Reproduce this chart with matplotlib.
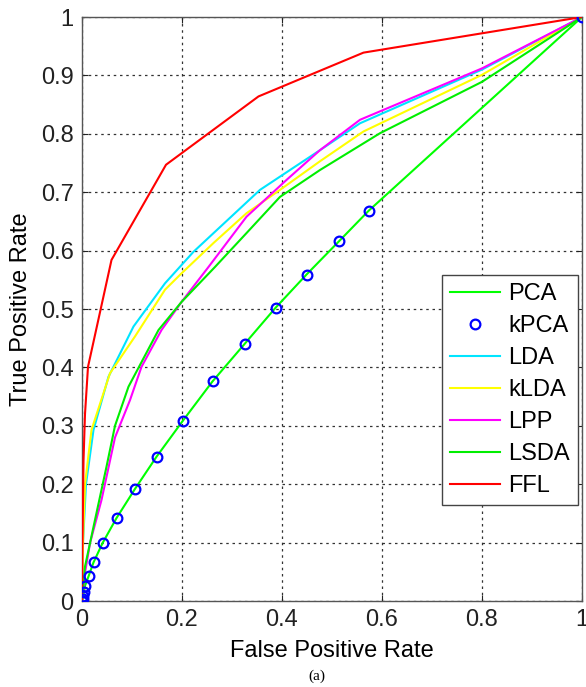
"""ROC curves of the compared feature extractors (panel a)."""

import matplotlib
matplotlib.use("Agg")
import matplotlib.pyplot as plt

plt.rcParams["font.family"] = ["Liberation Sans", "DejaVu Sans"]

# ROC points (false positive rate, true positive rate)
pca_fpr = [0.0, 0.001, 0.002, 0.004, 0.006, 0.013, 0.023, 0.041, 0.069, 0.106,
           0.149, 0.202, 0.261, 0.325, 0.387, 0.449, 0.514, 0.573, 1.0]
pca_tpr = [0.0, 0.003, 0.008, 0.016, 0.026, 0.042, 0.066, 0.099, 0.142, 0.192,
           0.247, 0.309, 0.376, 0.440, 0.502, 0.559, 0.616, 0.668, 1.0]

kpca_fpr = pca_fpr
kpca_tpr = pca_tpr

lda_fpr = [0.0, 0.002, 0.008, 0.023, 0.053, 0.103, 0.166, 0.223, 0.356, 0.476,
           0.556, 0.8, 1.0]
lda_tpr = [0.0, 0.10, 0.20, 0.293, 0.384, 0.470, 0.544, 0.598, 0.704, 0.772,
           0.818, 0.91, 1.0]

klda_fpr = [0.0, 0.002, 0.006, 0.019, 0.056, 0.106, 0.166, 0.199, 0.263, 0.329,
            0.396, 0.476, 0.563, 0.8, 1.0]
klda_tpr = [0.0, 0.10, 0.20, 0.293, 0.390, 0.453, 0.533, 0.561, 0.613, 0.664,
            0.704, 0.753, 0.804, 0.901, 1.0]

lpp_fpr = [0.0, 0.006, 0.016, 0.039, 0.066, 0.096, 0.119, 0.159, 0.199, 0.253,
           0.329, 0.409, 0.476, 0.556, 0.8, 1.0]
lpp_tpr = [0.0, 0.048, 0.099, 0.173, 0.28, 0.344, 0.401, 0.464, 0.512, 0.572,
           0.658, 0.721, 0.772, 0.824, 0.912, 1.0]

lsda_fpr = [0.0, 0.006, 0.023, 0.049, 0.066, 0.093, 0.153, 0.199, 0.266, 0.329,
            0.396, 0.476, 0.596, 0.8, 1.0]
lsda_tpr = [0.0, 0.059, 0.127, 0.23, 0.30, 0.367, 0.464, 0.512, 0.572, 0.630,
            0.692, 0.738, 0.801, 0.889, 1.0]

ffl_fpr = [0.0, 0.001, 0.003, 0.006, 0.012, 0.059, 0.168, 0.353, 0.563, 1.0]
ffl_tpr = [0.0, 0.10, 0.24, 0.32, 0.401, 0.584, 0.747, 0.864, 0.939, 1.0]

x_ticks = [0.0, 0.2, 0.4, 0.6, 0.8, 1.0]
x_tick_labels = ["0", "0.2", "0.4", "0.6", "0.8", "1"]
y_ticks = [0.0, 0.1, 0.2, 0.3, 0.4, 0.5, 0.6, 0.7, 0.8, 0.9, 1.0]
y_tick_labels = ["0", "0.1", "0.2", "0.3", "0.4", "0.5", "0.6", "0.7", "0.8", "0.9", "1"]

fig = plt.figure(figsize=(5.86, 6.87), dpi=100)
ax = fig.add_axes([82 / 586, 1 - 601 / 687, 500 / 586, 584 / 687])

lw = 1.5
ax.plot(pca_fpr, pca_tpr, color="#00ff00", lw=lw, label="PCA", zorder=3)
ax.plot(kpca_fpr, kpca_tpr, ls="none", marker="o", ms=7, mfc="none",
        mec="#0000ff", mew=1.6, label="kPCA", zorder=4)
ax.plot(lda_fpr, lda_tpr, color="#00e5ff", lw=lw, label="LDA", zorder=3)
ax.plot(klda_fpr, klda_tpr, color="#ffff00", lw=lw, label="kLDA", zorder=3)
ax.plot(lpp_fpr, lpp_tpr, color="#ff00ff", lw=lw, label="LPP", zorder=3)
ax.plot(lsda_fpr, lsda_tpr, color="#00ee00", lw=lw, label="LSDA", zorder=3)
ax.plot(ffl_fpr, ffl_tpr, color="#ff0000", lw=lw, label="FFL", zorder=3)

ax.set_xlim(0, 1)
ax.set_ylim(0, 1)
ax.set_xticks(x_ticks)
ax.set_xticklabels(x_tick_labels)
ax.set_yticks(y_ticks)
ax.set_yticklabels(y_tick_labels)
ax.tick_params(direction="in", length=4, labelsize=17, colors="#222222",
               top=True, right=True, pad=6)
ax.grid(True, color="#333333", linestyle=(0, (2, 3)), linewidth=0.9)
for spine in ax.spines.values():
    spine.set_color("#555555")
    spine.set_linewidth(1.0)

ax.set_xlabel("False Positive Rate", fontsize=17, labelpad=6)
ax.set_ylabel("True Positive Rate", fontsize=17, labelpad=6)

leg = ax.legend(loc="upper right", bbox_to_anchor=(0.992, 0.558),
                fontsize=17, frameon=True, fancybox=False, framealpha=1,
                edgecolor="#444444", borderpad=0.35, labelspacing=0.42,
                handlelength=2.1, handletextpad=0.35, borderaxespad=0)
leg.get_frame().set_linewidth(1.0)

fig.text(317 / 586, 1 - 676 / 687, "(a)", family="Liberation Serif",
         fontsize=11, ha="center", va="center")

fig.savefig("out.png", dpi=100)
